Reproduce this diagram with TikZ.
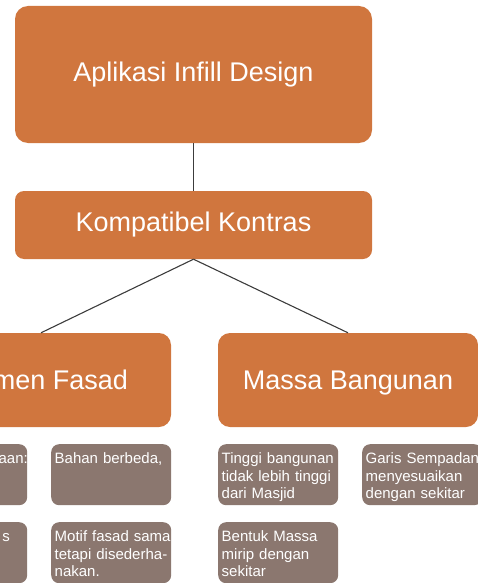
\documentclass[tikz,border=0pt]{standalone}
\usepackage{fontspec}
\setmainfont{Liberation Sans}
\definecolor{boxorange}{RGB}{208,118,62}
\definecolor{leafbrown}{RGB}{139,119,111}
\definecolor{linegray}{RGB}{60,60,60}

\begin{document}
\begin{tikzpicture}[x=1pt, y=-1pt,
  big/.style={fill=boxorange, text=white, inner sep=0pt,
    font=\fontsize{27}{32}\selectfont},
  leaf/.style={fill=leafbrown, text=white, rounded corners=8pt, anchor=north west,
    font=\fontsize{15}{17.5}\selectfont, text width=113pt, align=left,
    inner xsep=3.5pt, inner ysep=8.5pt, text height=11pt, text depth=33pt,
    minimum width=120pt},
  leaflabel/.style={text=white, inner sep=0pt, font=\fontsize{15}{17.5}\selectfont},
  link/.style={draw=linegray, line width=1.1pt}]
\useasboundingbox (0,0) rectangle (478,583);
\clip (0,0) rectangle (478,583);

\node[big, rounded corners=13pt, minimum width=357pt, minimum height=137pt] (top) at (193.5,74.5) {Aplikasi Infill Design};
\node[big, rounded corners=9pt, minimum width=357pt, minimum height=68pt] (kompat) at (193.5,225) {Kompatibel Kontras};

\node[big, rounded corners=12pt, minimum width=260pt, minimum height=94pt,
      text height=19pt, text depth=0pt] (fasad) at (41,380) {Elemen Fasad};
\node[big, rounded corners=12pt, minimum width=260pt, minimum height=94pt,
      text height=19pt, text depth=0pt] (massa) at (348,380) {Massa Bangunan};

\draw[link] (top.south) -- (kompat.north);
\draw[link] (kompat.south) -- (fasad.north);
\draw[link] (kompat.south) -- (massa.north);

% elemen fasad
\node[leaf] (f1) at (-93,444) {};
\node[leaflabel, anchor=base east] (f1text) at (28,463.5) {aan:};
\node[leaf] (f2) at (51,444) {Bahan berbeda,};
\node[leaf] (f3) at (-93,522) {};
\node[leaflabel, anchor=base east] (f3text) at (10,541.5) {s};
\node[leaf] (f4) at (51,522) {\mbox{Motif fasad sama}\\tetapi disederha-\\nakan.};

% massa bangunan
\node[leaf] (m1) at (218,444) {Tinggi bangunan\\tidak lebih tinggi\\dari Masjid};
\node[leaf] (m2) at (362,444) {\mbox{Garis Sempadan}\\menyesuaikan\\dengan sekitar};
\node[leaf] (m3) at (218,522) {Bentuk Massa\\mirip dengan\\sekitar};
\end{tikzpicture}
\end{document}
